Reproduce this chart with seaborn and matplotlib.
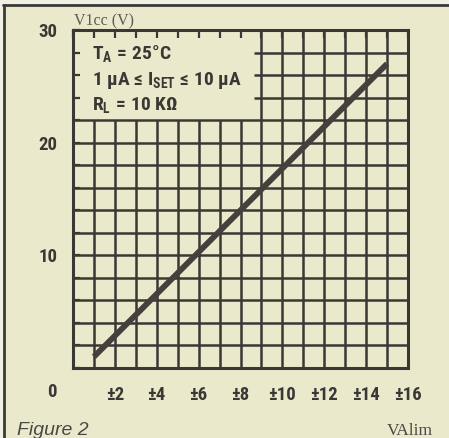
import matplotlib
matplotlib.use("Agg")
import matplotlib.pyplot as plt
from matplotlib import font_manager
from matplotlib.lines import Line2D
from matplotlib.patches import Rectangle
import seaborn as sns
import pandas as pd

# Data: output voltage vs supply voltage
v_alim = [1, 15]
v_lcc = [1, 27]

x_ticks = list(range(0, 17))
x_tick_labels = ["" if (v % 2 or v == 0) else f"±{v}" for v in x_ticks]
y_ticks = list(range(0, 31, 2))
y_tick_labels = [str(v) if v in (10, 20, 30) else "" for v in y_ticks]

conditions = [
    r"$\mathbf{T_{A}\,=\,25°C}$",
    r"$\mathbf{1\ μA\ ≤\ I_{SET}\ ≤\ 10\ μA}$",
    r"$\mathbf{R_{L}\,=\,10\ KΩ}$",
]
condition_y = [27.45, 25.1, 22.9]

BG = "#ebe9cc"
INK = "#3b3735"

sns.set_theme(style="white")

names = {f.name for f in font_manager.fontManager.ttflist}
COND = next((n for n in ["Liberation Sans Narrow", "DejaVu Sans Condensed",
                         "Roboto Condensed", "DejaVu Sans"] if n in names), "DejaVu Sans")
plt.rcParams["font.family"] = [COND, "DejaVu Sans"]
plt.rcParams["mathtext.fontset"] = "custom"
plt.rcParams["mathtext.bf"] = f"{COND}:bold"
plt.rcParams["mathtext.rm"] = f"{COND}:bold"
plt.rcParams["mathtext.it"] = f"{COND}:bold"

fig = plt.figure(figsize=(4.49, 4.38), dpi=100, facecolor="#f1f0e4")
fig.add_artist(Rectangle((4 / 449, 0), 1, 1 - 5 / 438, transform=fig.transFigure,
                         facecolor=BG, edgecolor="none", zorder=0))
fig.add_artist(Line2D([3 / 449, 1], [1 - 5 / 438] * 2, transform=fig.transFigure,
                      color="#3c3838", lw=2.0))
fig.add_artist(Line2D([4 / 449] * 2, [0, 1 - 5 / 438], transform=fig.transFigure,
                      color="#3c3838", lw=2.0))

ax = fig.add_axes([73 / 449, 70 / 438, 335 / 449, 338 / 438])
ax.set_facecolor(BG)
ax.set_xlim(0, 16)
ax.set_ylim(0, 30)

# Grid, leaving the corner free for the test conditions
grid_kw = dict(color=INK, lw=1.8, zorder=1)
for x in x_ticks[1:-1]:
    ax.vlines(x, 0, 22 if x <= 8 else 30, **grid_kw)
for y in y_ticks[1:-1]:
    ax.hlines(y, 8.65 if y > 22 else 0, 16, **grid_kw)

df = pd.DataFrame({"V": v_alim, "Vcc": v_lcc})
sns.lineplot(data=df, x="V", y="Vcc", ax=ax, color="#45403d", lw=4.2,
             solid_capstyle="butt", zorder=3)

for spine in ax.spines.values():
    spine.set_color(INK)
    spine.set_linewidth(2.2)

ax.set_xticks(x_ticks, x_tick_labels)
ax.set_yticks(y_ticks, y_tick_labels)
ax.tick_params(axis="x", direction="in", length=5.5, width=1.6, color=INK,
               top=True, bottom=False, labelbottom=True, pad=13,
               labelsize=13.5, labelcolor=INK)
ax.tick_params(axis="y", direction="in", length=5, width=1.6, color=INK,
               left=True, right=False, pad=11, labelsize=13.5, labelcolor=INK)
for lab in ax.get_xticklabels() + ax.get_yticklabels():
    lab.set_fontweight("bold")
ax.set_xlabel("")
ax.set_ylabel("")

ax.annotate("0", xy=(0, 0), xytext=(-15, -17.5), textcoords="offset points",
            ha="center", va="center", fontsize=13.5, fontweight="bold", color=INK)

for txt, yy in zip(conditions, condition_y):
    ax.text(0.9, yy, txt, fontsize=14, color=INK, va="baseline", ha="left")

fig.text(74 / 449, 1 - 25 / 438, "V1cc (V)", family=["Liberation Serif", "DejaVu Serif"],
         fontsize=11.5, color="#5e5957", va="baseline", ha="left")
fig.text(433 / 449, 1 - 435 / 438, "VAlim", family=["Liberation Serif", "DejaVu Serif"],
         fontsize=12.5, color="#4a4644", va="baseline", ha="right")
fig.text(17 / 449, 1 - 435 / 438, "Figure 2", family=["Liberation Sans", "DejaVu Sans"],
         style="italic", fontsize=14, color="#4a4846", va="baseline", ha="left")

fig.savefig("out.png", dpi=100, facecolor=fig.get_facecolor())
